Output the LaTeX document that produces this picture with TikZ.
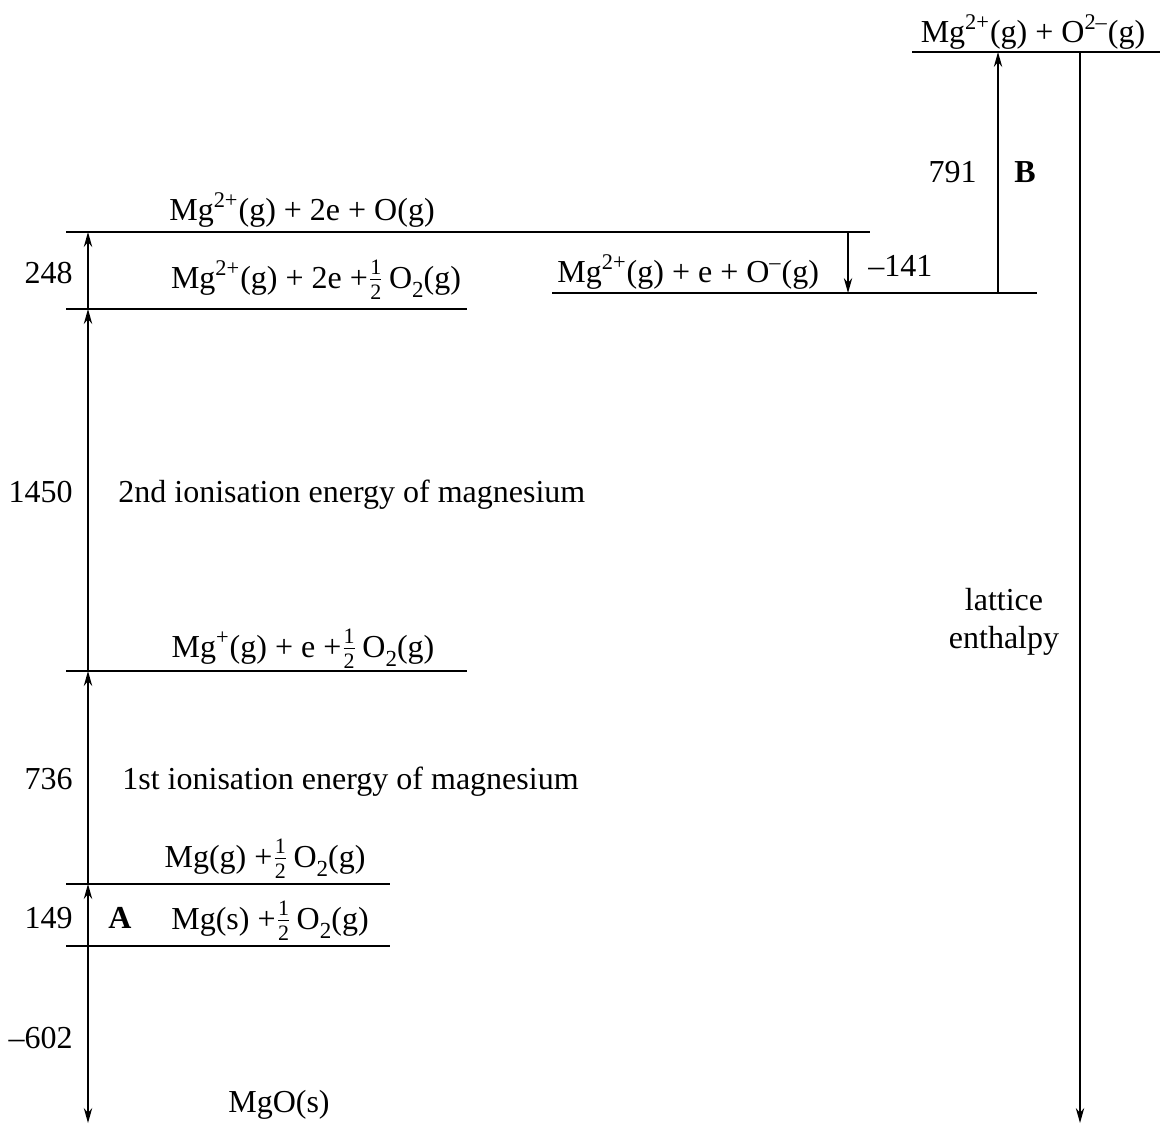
\documentclass[tikz,border=0pt]{standalone}
\usepackage{fontspec}
\setmainfont{Liberation Serif}
\usetikzlibrary{arrows.meta}
\newcommand{\fracdigit}[1]{\mbox{\fontsize{11}{11}\selectfont #1}}
\newcommand{\half}{$\frac{\fracdigit{1}}{\fracdigit{2}}$}
\newcommand{\sub}[1]{\raisebox{-.3em}{\fontsize{11.5}{12}\selectfont #1}}

\begin{document}
\begin{tikzpicture}[x=0.5pt,y=-0.5pt,>={Stealth[length=7.5pt,width=4.2pt]},
  level/.style={line width=.7pt},
  step arrow/.style={->,line width=.7pt},
  lab/.style={anchor=base,inner sep=0pt,font=\fontsize{16}{19}\selectfont}]
\useasboundingbox (0,0) rectangle (1160,1124);
% energy levels
\foreach \name/\xa/\xb/\y in {top/912/1160/52,atom/66/870/232,ion/552/1037/293,half/66/467/309,mgp/66/467/671,mgg/66/390/884,mgs/66/390/946}{
  \coordinate (\name W) at (\xa,\y);
  \coordinate (\name E) at (\xb,\y);
  \draw[level] (\name W) -- (\name E);
}
% arrow ends
\coordinate (sA) at (88,946);
\coordinate (gA) at (88,884);
\coordinate (pA) at (88,671);
\coordinate (hA) at (88,309);
\coordinate (oA) at (88,232);
\coordinate (mgoA) at (88,1123);
\coordinate (oB) at (848,232);
\coordinate (iB) at (848,293);
\coordinate (iC) at (998,293);
\coordinate (tC) at (998,52);
\coordinate (tD) at (1080,52);
\coordinate (latD) at (1080,1123);
\foreach \a/\b in {sA/gA,gA/pA,pA/hA,hA/oA,sA/mgoA,oB/iB,iC/tC,tD/latD}{\draw[step arrow] (\a) -- (\b);}
% species
\node[lab] (top) at (1033,42) {Mg\textsuperscript{2+}(g) + O\textsuperscript{2--}(g)};
\node[lab] (atom) at (302,220) {Mg\textsuperscript{2+}(g) + 2e + O(g)};
\node[lab,anchor=base west] (ion) at (557,282) {Mg\textsuperscript{2+}(g) + e + O\textsuperscript{--}(g)};
\node[lab] (half) at (316,288) {Mg\textsuperscript{2+}(g) + 2e +\half\,O\sub{2}(g)};
\node[lab] (mgp) at (303,657) {Mg\textsuperscript{+}(g) + e +\half\,O\sub{2}(g)};
\node[lab] (mgg) at (265,867) {Mg(g) +\half\,O\sub{2}(g)};
\node[lab] (mgs) at (270,929) {Mg(s) +\half\,O\sub{2}(g)};
\node[lab] (mgo) at (279,1112) {MgO(s)};
% enthalpy values
\node[lab,anchor=base east] (v248) at (73,283) {248};
\node[lab,anchor=base east] (v1450) at (73,502) {1450};
\node[lab,anchor=base west] (ie2) at (118,502) {2nd ionisation energy of magnesium};
\node[lab,anchor=base east] (v736) at (73,789) {736};
\node[lab,anchor=base west] (ie1) at (122,789) {1st ionisation energy of magnesium};
\node[lab,anchor=base east] (v149) at (73,928) {149};
\node[lab,font=\fontsize{16}{19}\selectfont\bfseries] (A) at (120,928) {A};
\node[lab,anchor=base east] (v602) at (73,1048) {--602};
\node[lab,anchor=base west] (v141) at (868,276) {--141};
\node[lab,anchor=base east] (v791) at (977,182) {791};
\node[lab,font=\fontsize{16}{19}\selectfont\bfseries] (B) at (1025,182) {B};
\node[lab,anchor=center,align=center] (lat) at (1004,622) {lattice\\enthalpy};
\end{tikzpicture}
\end{document}
